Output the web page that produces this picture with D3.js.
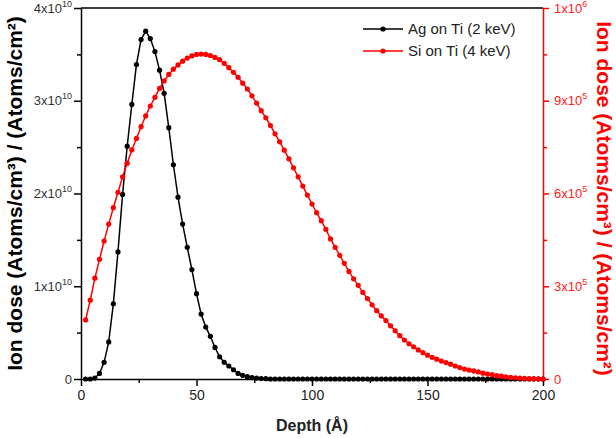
<!DOCTYPE html>
<html>
<head>
<meta charset="utf-8">
<script src="https://cdn.jsdelivr.net/npm/d3@7"></script>
<style>
  body { margin: 0; background: #fff; }
  svg { display: block; font-family: Arial, "Liberation Sans", sans-serif; }
</style>
</head>
<body>
<svg id="chart" width="616" height="438"></svg>
<script>
// depth grid (Å)
var depth = [
  2, 4, 6, 8, 10, 12, 14, 16, 18, 20, 22, 24, 26, 28, 30, 32, 34, 36, 38, 40,
  42, 44, 46, 48, 50, 52, 54, 56, 58, 60, 62, 64, 66, 68, 70, 72, 74, 76, 78, 80,
  82, 84, 86, 88, 90, 92, 94, 96, 98, 100, 102, 104, 106, 108, 110, 112, 114, 116, 118, 120,
  122, 124, 126, 128, 130, 132, 134, 136, 138, 140, 142, 144, 146, 148, 150, 152, 154, 156, 158, 160,
  162, 164, 166, 168, 170, 172, 174, 176, 178, 180, 182, 184, 186, 188, 190, 192, 194, 196, 198, 200
];

// Ag on Ti (2 keV), left axis, in units of 1e10
var agDose = [
  0.00, 0.00, 0.01, 0.06, 0.18, 0.40, 0.81, 1.37, 1.99, 2.51, 2.96, 3.39, 3.66, 3.75, 3.67, 3.53, 3.33, 3.08, 2.71, 2.31,
  1.96, 1.67, 1.42, 1.18, 0.92, 0.70, 0.56, 0.46, 0.34, 0.24, 0.18, 0.14, 0.10, 0.06, 0.04, 0.025, 0.015, 0.01, 0.005, 0.003,
  0, 0, 0, 0, 0, 0, 0, 0, 0, 0, 0, 0, 0, 0, 0, 0, 0, 0, 0, 0,
  0, 0, 0, 0, 0, 0, 0, 0, 0, 0, 0, 0, 0, 0, 0, 0, 0, 0, 0, 0,
  0, 0, 0, 0, 0, 0, 0, 0, 0, 0, 0, 0, 0, 0, 0, 0, 0, 0, 0, 0
];

// Si on Ti (4 keV), right axis, in units of 1e5
var siDose = [
  1.91, 2.55, 3.26, 3.87, 4.46, 5.01, 5.54, 6.04, 6.54, 6.98, 7.41, 7.78, 8.16, 8.51, 8.83, 9.11, 9.40, 9.64, 9.85, 10.02,
  10.16, 10.28, 10.38, 10.45, 10.50, 10.51, 10.50, 10.46, 10.40, 10.33, 10.21, 10.07, 9.92, 9.76, 9.57, 9.38, 9.16, 8.92, 8.68, 8.45,
  8.20, 7.93, 7.67, 7.40, 7.12, 6.83, 6.54, 6.24, 5.95, 5.66, 5.38, 5.12, 4.84, 4.53, 4.26, 4.00, 3.74, 3.48, 3.24, 3.03,
  2.80, 2.60, 2.40, 2.21, 2.04, 1.89, 1.72, 1.56, 1.40, 1.26, 1.14, 1.04, 0.94, 0.85, 0.77, 0.70, 0.64, 0.58, 0.53, 0.48,
  0.42, 0.37, 0.32, 0.29, 0.26, 0.23, 0.19, 0.16, 0.14, 0.11, 0.09, 0.07, 0.05, 0.04, 0.03, 0.02, 0.01, 0.01, 0.005, 0
];

var xTicks = [0, 50, 100, 150, 200];
var xMinorTicks = [25, 75, 125, 175];
var leftTicks = [0, 1, 2, 3, 4];
var leftMinorTicks = [0.5, 1.5, 2.5, 3.5];
var leftTickBase = ["0", "1x10", "2x10", "3x10", "4x10"];
var leftTickExp = ["", "10", "10", "10", "10"];
var rightTicks = [0, 3, 6, 9, 12];
var rightMinorTicks = [1.5, 4.5, 7.5, 10.5];
var rightTickBase = ["0", "3x10", "6x10", "9x10", "1x10"];
var rightTickExp = ["", "5", "5", "5", "6"];
var seriesNames = ["Ag on Ti (2 keV)", "Si on Ti (4 keV)"];
var seriesColors = ["#000000", "#ff0000"];

var svg = d3.select("#chart");

var plotLeft = 81, plotRight = 543, plotTop = 8, plotBottom = 379;

var x = d3.scaleLinear().domain([0, 200]).range([plotLeft, plotRight]);
var yL = d3.scaleLinear().domain([0, 4]).range([plotBottom, plotTop]);
var yR = d3.scaleLinear().domain([0, 12]).range([plotBottom, plotTop]);

// top frame line
svg.append("line")
    .attr("x1", x(0)).attr("x2", x(200))
    .attr("y1", yL(4)).attr("y2", yL(4))
    .attr("stroke", "#000").attr("stroke-width", 1.5);

// x axis
var gx = svg.append("g").attr("transform", "translate(0," + plotBottom + ")");
gx.call(d3.axisBottom(x).tickValues(xTicks).tickSize(7).tickSizeOuter(0).tickPadding(4));
gx.append("g").call(d3.axisBottom(x).tickValues(xMinorTicks).tickSize(4).tickFormat(""))
    .select(".domain").remove();
gx.selectAll("path, line").attr("stroke", "#000").attr("stroke-width", 1.5);
gx.selectAll("text").attr("font-size", 14).attr("fill", "#222")
    .attr("font-family", "Arial, 'Liberation Sans', sans-serif");

// left axis
var gl = svg.append("g").attr("transform", "translate(" + plotLeft + ",0)");
gl.call(d3.axisLeft(yL).tickValues(leftTicks).tickSize(7).tickSizeOuter(0).tickFormat(""));
gl.append("g").call(d3.axisLeft(yL).tickValues(leftMinorTicks).tickSize(4).tickFormat(""))
    .select(".domain").remove();
gl.selectAll("path, line").attr("stroke", "#000").attr("stroke-width", 1.5);

// right axis
var gr = svg.append("g").attr("transform", "translate(" + plotRight + ",0)");
gr.call(d3.axisRight(yR).tickValues(rightTicks).tickSize(6).tickSizeOuter(0).tickFormat(""));
gr.append("g").call(d3.axisRight(yR).tickValues(rightMinorTicks).tickSize(4).tickFormat(""))
    .select(".domain").remove();
gr.selectAll("path, line").attr("stroke", "#ff0000").attr("stroke-width", 1.5);

// tick labels with superscripts
function sciLabels(g, ticks, scale, base, exp, xPos, anchor, color) {
  var t = g.selectAll("text.sci").data(ticks).enter().append("text")
      .attr("class", "sci")
      .attr("x", xPos)
      .attr("y", function(d) { return scale(d); })
      .attr("dy", "0.36em")
      .attr("text-anchor", anchor)
      .attr("font-size", 13)
      .attr("fill", color);
  t.append("tspan").text(function(d, i) { return base[i]; });
  t.append("tspan")
      .attr("font-size", 9)
      .attr("dy", -6)
      .text(function(d, i) { return exp[i]; });
}
sciLabels(svg.append("g"), leftTicks, yL, leftTickBase, leftTickExp, plotLeft - 9, "end", "#333");
sciLabels(svg.append("g"), rightTicks, yR, rightTickBase, rightTickExp, plotRight + 11, "start", "#ff2020");

// axis titles
svg.append("text")
    .attr("transform", "translate(22," + ((plotTop + plotBottom) / 2) + ") rotate(-90)")
    .attr("text-anchor", "middle")
    .attr("font-size", 21).attr("font-weight", "bold").attr("fill", "#000")
    .text("Ion dose (Atoms/cm³) / (Atoms/cm²)");

svg.append("text")
    .attr("transform", "translate(597," + ((plotTop + plotBottom) / 2 + 5) + ") rotate(90)")
    .attr("text-anchor", "middle")
    .attr("font-size", 21).attr("font-weight", "bold").attr("fill", "#ff0000")
    .text("Ion dose (Atoms/cm³) / (Atoms/cm²)");

svg.append("text")
    .attr("x", (plotLeft + plotRight) / 2).attr("y", 431)
    .attr("text-anchor", "middle")
    .attr("font-size", 16).attr("font-weight", "bold").attr("fill", "#222")
    .text("Depth (Å)");

// series
var agLine = d3.line().x(function(d, i) { return x(depth[i]); }).y(function(d) { return yL(d); });
var siLine = d3.line().x(function(d, i) { return x(depth[i]); }).y(function(d) { return yR(d); });

svg.append("path").datum(agDose)
    .attr("d", agLine).attr("fill", "none")
    .attr("stroke", seriesColors[0]).attr("stroke-width", 1.5);
svg.append("g").selectAll("circle").data(agDose).enter().append("circle")
    .attr("cx", function(d, i) { return x(depth[i]); })
    .attr("cy", function(d) { return yL(d); })
    .attr("r", 2.6).attr("fill", seriesColors[0]);

svg.append("path").datum(siDose)
    .attr("d", siLine).attr("fill", "none")
    .attr("stroke", seriesColors[1]).attr("stroke-width", 1.5);
svg.append("g").selectAll("circle").data(siDose).enter().append("circle")
    .attr("cx", function(d, i) { return x(depth[i]); })
    .attr("cy", function(d) { return yR(d); })
    .attr("r", 2.6).attr("fill", seriesColors[1]);

// legend
var legend = svg.append("g").selectAll("g").data(seriesNames).enter().append("g")
    .attr("transform", function(d, i) { return "translate(363," + (29 + i * 22) + ")"; });
legend.append("line")
    .attr("x1", 0).attr("x2", 40)
    .attr("stroke", function(d, i) { return seriesColors[i]; })
    .attr("stroke-width", 1.5);
legend.append("circle")
    .attr("cx", 20).attr("r", 2.6)
    .attr("fill", function(d, i) { return seriesColors[i]; });
legend.append("text")
    .attr("x", 45).attr("dy", "0.35em")
    .attr("font-size", 15).attr("fill", "#222")
    .text(function(d) { return d; });
</script>
</body>
</html>
